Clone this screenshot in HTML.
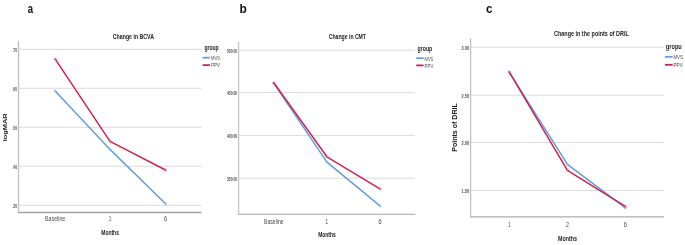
<!DOCTYPE html>
<html><head><meta charset="utf-8"><style>
html,body{margin:0;padding:0;background:#fff;}
svg{display:block;font-family:"Liberation Sans",sans-serif;}
text{filter:grayscale(1);}
</style></head><body>
<svg width="685" height="245" viewBox="0 0 685 245">
<rect width="685" height="245" fill="#fff"/>
<line x1="18.5" y1="49.3" x2="201.5" y2="49.3" stroke="#dcdcdc" stroke-width="1"/>
<text x="12.4" y="51.8" font-size="6" font-weight="bold" fill="#4a4a4a" textLength="4.60" lengthAdjust="spacingAndGlyphs">.70</text>
<line x1="18.5" y1="88.3" x2="201.5" y2="88.3" stroke="#dcdcdc" stroke-width="1"/>
<text x="12.4" y="90.8" font-size="6" font-weight="bold" fill="#4a4a4a" textLength="4.60" lengthAdjust="spacingAndGlyphs">.60</text>
<line x1="18.5" y1="127.3" x2="201.5" y2="127.3" stroke="#dcdcdc" stroke-width="1"/>
<text x="12.4" y="129.8" font-size="6" font-weight="bold" fill="#4a4a4a" textLength="4.60" lengthAdjust="spacingAndGlyphs">.50</text>
<line x1="18.5" y1="166.3" x2="201.5" y2="166.3" stroke="#dcdcdc" stroke-width="1"/>
<text x="12.4" y="168.8" font-size="6" font-weight="bold" fill="#4a4a4a" textLength="4.60" lengthAdjust="spacingAndGlyphs">.40</text>
<line x1="18.5" y1="205.3" x2="201.5" y2="205.3" stroke="#dcdcdc" stroke-width="1"/>
<text x="12.4" y="207.8" font-size="6" font-weight="bold" fill="#4a4a4a" textLength="4.60" lengthAdjust="spacingAndGlyphs">.30</text>
<line x1="18.5" y1="41" x2="18.5" y2="213.0" stroke="#c0c0c0" stroke-width="1.3"/>
<line x1="18.5" y1="212.5" x2="201.5" y2="212.5" stroke="#a2a2a2" stroke-width="1.3"/>
<text x="45.1" y="221.4" font-size="7.6" font-weight="normal" fill="#4a4a4a" textLength="20.20" lengthAdjust="spacingAndGlyphs">Baseline</text>
<text x="108.7" y="221.4" font-size="7.6" font-weight="normal" fill="#4a4a4a" textLength="2.60" lengthAdjust="spacingAndGlyphs">1</text>
<text x="163.9" y="221.4" font-size="7.6" font-weight="normal" fill="#4a4a4a" textLength="3.20" lengthAdjust="spacingAndGlyphs">6</text>
<text x="101.3" y="235.1" font-size="7.5" font-weight="bold" fill="#222222" textLength="17.60" lengthAdjust="spacingAndGlyphs">Months</text>
<text x="112.8" y="39.0" font-size="7.4" font-weight="bold" fill="#222222" textLength="41.20" lengthAdjust="spacingAndGlyphs">Change in BCVA</text>
<text x="204.4" y="50.3" font-size="7.5" font-weight="bold" fill="#222222" textLength="14.30" lengthAdjust="spacingAndGlyphs">group</text>
<line x1="202.6" y1="57.7" x2="209.9" y2="57.7" stroke="#639ddf" stroke-width="1.8"/>
<line x1="202.6" y1="65.1" x2="209.9" y2="65.1" stroke="#cc2452" stroke-width="1.8"/>
<text x="211" y="60.300000000000004" font-size="6.2" font-weight="normal" fill="#4a4a4a" textLength="9.00" lengthAdjust="spacingAndGlyphs">MVS</text>
<text x="211" y="67.3" font-size="6.2" font-weight="normal" fill="#4a4a4a" textLength="9.00" lengthAdjust="spacingAndGlyphs">PPV</text>
<polyline points="55.2,91.1 110,149.4 165.5,203.8" fill="none" stroke="#639ddf" stroke-width="1.5" stroke-linejoin="round" stroke-linecap="round"/>
<circle cx="55.2" cy="91.1" r="1.05" fill="#fff" fill-opacity="0.5" stroke="#639ddf" stroke-opacity="0.8" stroke-width="0.7"/>
<circle cx="110" cy="149.4" r="1.05" fill="#fff" fill-opacity="0.5" stroke="#639ddf" stroke-opacity="0.8" stroke-width="0.7"/>
<circle cx="165.5" cy="203.8" r="1.05" fill="#fff" fill-opacity="0.5" stroke="#639ddf" stroke-opacity="0.8" stroke-width="0.7"/>
<polyline points="55.2,59.2 110,141.3 165.5,170" fill="none" stroke="#cc2452" stroke-width="1.5" stroke-linejoin="round" stroke-linecap="round"/>
<circle cx="55.2" cy="59.2" r="1.05" fill="#fff" fill-opacity="0.5" stroke="#cc2452" stroke-opacity="0.8" stroke-width="0.7"/>
<circle cx="110" cy="141.3" r="1.05" fill="#fff" fill-opacity="0.5" stroke="#cc2452" stroke-opacity="0.8" stroke-width="0.7"/>
<circle cx="165.5" cy="170" r="1.05" fill="#fff" fill-opacity="0.5" stroke="#cc2452" stroke-opacity="0.8" stroke-width="0.7"/>
<text transform="translate(7.0,141.2) rotate(-90) scale(1,0.8)" x="0" y="0" font-size="7.6" font-weight="bold" fill="#222222" textLength="27.80" lengthAdjust="spacingAndGlyphs">logMAR</text>
<text x="27.8" y="12.9" font-size="12.5" font-weight="bold" fill="#111" textLength="5.30" lengthAdjust="spacingAndGlyphs">a</text>
<line x1="238.6" y1="50.2" x2="414.5" y2="50.2" stroke="#dcdcdc" stroke-width="1"/>
<text x="226.89999999999998" y="52.7" font-size="6" font-weight="bold" fill="#4a4a4a" textLength="10.30" lengthAdjust="spacingAndGlyphs">500.00</text>
<line x1="238.6" y1="92.6" x2="414.5" y2="92.6" stroke="#dcdcdc" stroke-width="1"/>
<text x="226.89999999999998" y="95.1" font-size="6" font-weight="bold" fill="#4a4a4a" textLength="10.30" lengthAdjust="spacingAndGlyphs">450.00</text>
<line x1="238.6" y1="135.4" x2="414.5" y2="135.4" stroke="#dcdcdc" stroke-width="1"/>
<text x="226.89999999999998" y="137.9" font-size="6" font-weight="bold" fill="#4a4a4a" textLength="10.30" lengthAdjust="spacingAndGlyphs">400.00</text>
<line x1="238.6" y1="178.2" x2="414.5" y2="178.2" stroke="#dcdcdc" stroke-width="1"/>
<text x="226.89999999999998" y="180.7" font-size="6" font-weight="bold" fill="#4a4a4a" textLength="10.30" lengthAdjust="spacingAndGlyphs">350.00</text>
<line x1="238.6" y1="41.6" x2="238.6" y2="214.9" stroke="#c6c6c6" stroke-width="1.3"/>
<line x1="238.6" y1="214.4" x2="415.3" y2="214.4" stroke="#b6b6b6" stroke-width="1.3"/>
<text x="264.05" y="224.0" font-size="7.6" font-weight="normal" fill="#4a4a4a" textLength="19.50" lengthAdjust="spacingAndGlyphs">Baseline</text>
<text x="325.59999999999997" y="224.0" font-size="7.6" font-weight="normal" fill="#4a4a4a" textLength="2.60" lengthAdjust="spacingAndGlyphs">1</text>
<text x="378.4" y="224.0" font-size="7.6" font-weight="normal" fill="#4a4a4a" textLength="3.20" lengthAdjust="spacingAndGlyphs">6</text>
<text x="318.2" y="237.2" font-size="7.5" font-weight="bold" fill="#222222" textLength="17.60" lengthAdjust="spacingAndGlyphs">Months</text>
<text x="328.8" y="39.0" font-size="7.4" font-weight="bold" fill="#222222" textLength="37.20" lengthAdjust="spacingAndGlyphs">Change in CMT</text>
<text x="417.6" y="51.0" font-size="7.5" font-weight="bold" fill="#222222" textLength="14.60" lengthAdjust="spacingAndGlyphs">group</text>
<line x1="416.2" y1="58.2" x2="423.6" y2="58.2" stroke="#639ddf" stroke-width="1.8"/>
<line x1="416.2" y1="65.4" x2="423.6" y2="65.4" stroke="#cc2452" stroke-width="1.8"/>
<text x="424.6" y="60.800000000000004" font-size="6.2" font-weight="normal" fill="#4a4a4a" textLength="8.70" lengthAdjust="spacingAndGlyphs">MVS</text>
<text x="424.6" y="67.60000000000001" font-size="6.2" font-weight="normal" fill="#4a4a4a" textLength="8.70" lengthAdjust="spacingAndGlyphs">PPV</text>
<polyline points="273.8,83.3 326.9,162.1 380.0,205.9" fill="none" stroke="#639ddf" stroke-width="1.5" stroke-linejoin="round" stroke-linecap="round"/>
<circle cx="273.8" cy="83.3" r="1.05" fill="#fff" fill-opacity="0.5" stroke="#639ddf" stroke-opacity="0.8" stroke-width="0.7"/>
<circle cx="326.9" cy="162.1" r="1.05" fill="#fff" fill-opacity="0.5" stroke="#639ddf" stroke-opacity="0.8" stroke-width="0.7"/>
<circle cx="380.0" cy="205.9" r="1.05" fill="#fff" fill-opacity="0.5" stroke="#639ddf" stroke-opacity="0.8" stroke-width="0.7"/>
<polyline points="273.8,82.8 326.9,156.8 380.0,188.9" fill="none" stroke="#cc2452" stroke-width="1.5" stroke-linejoin="round" stroke-linecap="round"/>
<circle cx="273.8" cy="82.8" r="1.05" fill="#fff" fill-opacity="0.5" stroke="#cc2452" stroke-opacity="0.8" stroke-width="0.7"/>
<circle cx="326.9" cy="156.8" r="1.05" fill="#fff" fill-opacity="0.5" stroke="#cc2452" stroke-opacity="0.8" stroke-width="0.7"/>
<circle cx="380.0" cy="188.9" r="1.05" fill="#fff" fill-opacity="0.5" stroke="#cc2452" stroke-opacity="0.8" stroke-width="0.7"/>
<text x="239.5" y="12.9" font-size="13" font-weight="bold" fill="#111" textLength="7.30" lengthAdjust="spacingAndGlyphs">b</text>
<line x1="470.6" y1="47.2" x2="663.5" y2="47.2" stroke="#dcdcdc" stroke-width="1"/>
<text x="461.6" y="49.7" font-size="6" font-weight="bold" fill="#4a4a4a" textLength="7.40" lengthAdjust="spacingAndGlyphs">3.00</text>
<line x1="470.6" y1="95.2" x2="663.5" y2="95.2" stroke="#dcdcdc" stroke-width="1"/>
<text x="461.6" y="97.7" font-size="6" font-weight="bold" fill="#4a4a4a" textLength="7.40" lengthAdjust="spacingAndGlyphs">2.50</text>
<line x1="470.6" y1="142.5" x2="663.5" y2="142.5" stroke="#dcdcdc" stroke-width="1"/>
<text x="461.6" y="145.0" font-size="6" font-weight="bold" fill="#4a4a4a" textLength="7.40" lengthAdjust="spacingAndGlyphs">2.00</text>
<line x1="470.6" y1="190.5" x2="663.5" y2="190.5" stroke="#dcdcdc" stroke-width="1"/>
<text x="461.6" y="193.0" font-size="6" font-weight="bold" fill="#4a4a4a" textLength="7.40" lengthAdjust="spacingAndGlyphs">1.50</text>
<line x1="470.6" y1="38.2" x2="470.6" y2="217.3" stroke="#c0c0c0" stroke-width="1.3"/>
<line x1="470.6" y1="216.8" x2="664" y2="216.8" stroke="#acacac" stroke-width="1.3"/>
<text x="508.0" y="227.0" font-size="7.6" font-weight="normal" fill="#4a4a4a" textLength="2.60" lengthAdjust="spacingAndGlyphs">1</text>
<text x="565.9" y="227.0" font-size="7.6" font-weight="normal" fill="#4a4a4a" textLength="3.00" lengthAdjust="spacingAndGlyphs">2</text>
<text x="623.6999999999999" y="227.0" font-size="7.6" font-weight="normal" fill="#4a4a4a" textLength="3.20" lengthAdjust="spacingAndGlyphs">6</text>
<text x="558.1" y="240.9" font-size="7.5" font-weight="bold" fill="#222222" textLength="19.00" lengthAdjust="spacingAndGlyphs">Months</text>
<text x="554.0" y="35.9" font-size="7.4" font-weight="bold" fill="#222222" textLength="74.80" lengthAdjust="spacingAndGlyphs">Change in the points of DRIL</text>
<text x="665.8" y="49.1" font-size="7.5" font-weight="bold" fill="#222222" textLength="16.00" lengthAdjust="spacingAndGlyphs">gropu</text>
<line x1="664.9" y1="56.8" x2="672.7" y2="56.8" stroke="#639ddf" stroke-width="1.8"/>
<line x1="664.9" y1="64.8" x2="672.7" y2="64.8" stroke="#cc2452" stroke-width="1.8"/>
<text x="673.4" y="59.4" font-size="6.2" font-weight="normal" fill="#4a4a4a" textLength="9.60" lengthAdjust="spacingAndGlyphs">MVS</text>
<text x="673.4" y="67.0" font-size="6.2" font-weight="normal" fill="#4a4a4a" textLength="9.60" lengthAdjust="spacingAndGlyphs">PPV</text>
<polyline points="509.3,72.3 567.4,164.4 625.3,207.8" fill="none" stroke="#639ddf" stroke-width="1.5" stroke-linejoin="round" stroke-linecap="round"/>
<circle cx="509.3" cy="72.3" r="1.05" fill="#fff" fill-opacity="0.5" stroke="#639ddf" stroke-opacity="0.8" stroke-width="0.7"/>
<circle cx="567.4" cy="164.4" r="1.05" fill="#fff" fill-opacity="0.5" stroke="#639ddf" stroke-opacity="0.8" stroke-width="0.7"/>
<circle cx="625.3" cy="207.8" r="1.05" fill="#fff" fill-opacity="0.5" stroke="#639ddf" stroke-opacity="0.8" stroke-width="0.7"/>
<polyline points="509.3,72.1 567.4,170.3 625.3,206.3" fill="none" stroke="#cc2452" stroke-width="1.5" stroke-linejoin="round" stroke-linecap="round"/>
<circle cx="509.3" cy="72.1" r="1.05" fill="#fff" fill-opacity="0.5" stroke="#cc2452" stroke-opacity="0.8" stroke-width="0.7"/>
<circle cx="567.4" cy="170.3" r="1.05" fill="#fff" fill-opacity="0.5" stroke="#cc2452" stroke-opacity="0.8" stroke-width="0.7"/>
<circle cx="625.3" cy="206.3" r="1.05" fill="#fff" fill-opacity="0.5" stroke="#cc2452" stroke-opacity="0.8" stroke-width="0.7"/>
<text transform="translate(456.6,151.8) rotate(-90) scale(1,0.9)" x="0" y="0" font-size="7.3" font-weight="bold" fill="#222222" textLength="48.60" lengthAdjust="spacingAndGlyphs">Points of DRIL</text>
<text x="486.0" y="13.3" font-size="12.4" font-weight="bold" fill="#111" textLength="6.50" lengthAdjust="spacingAndGlyphs">c</text>
</svg>
</body></html>
